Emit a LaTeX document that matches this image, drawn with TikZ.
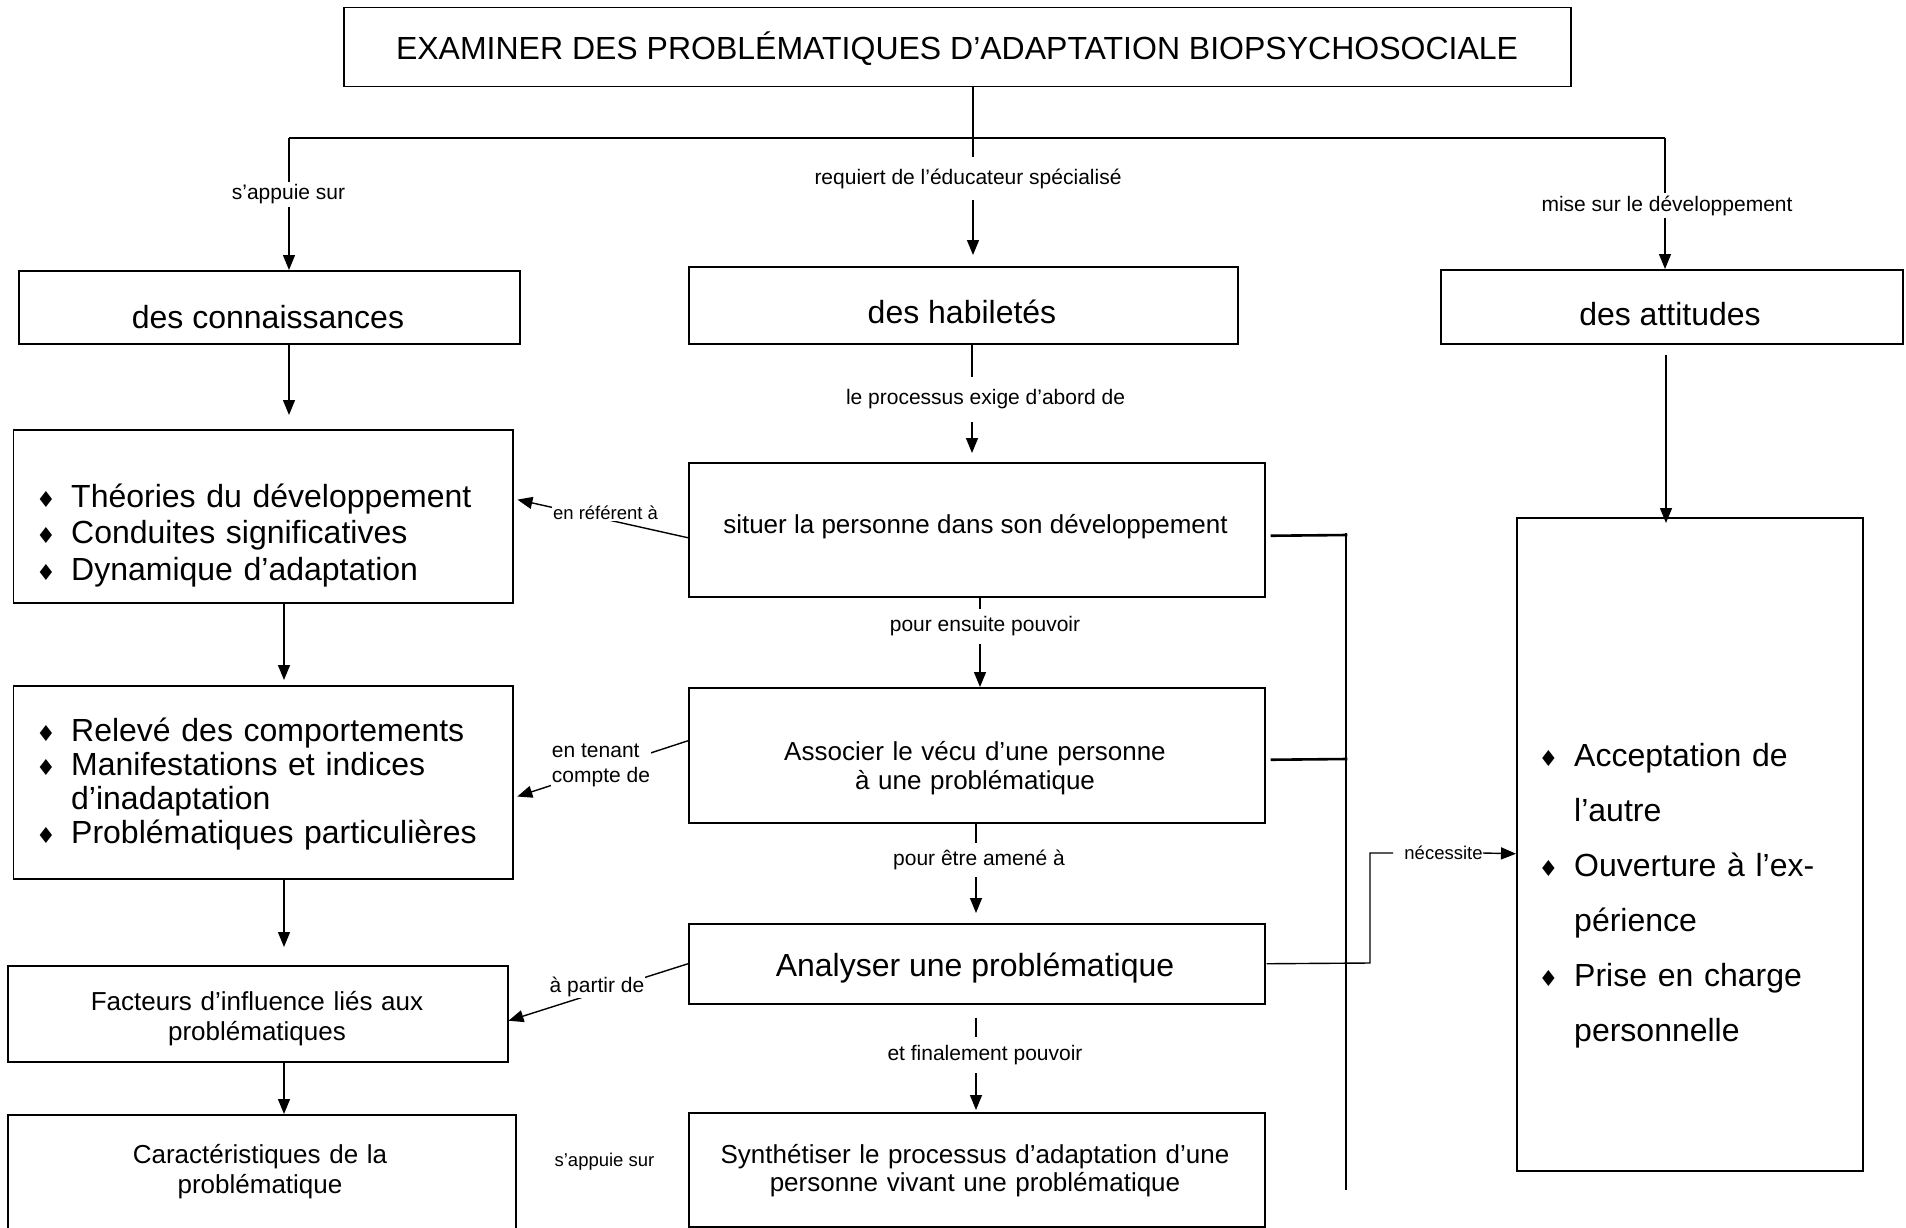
\documentclass[tikz,border=0pt]{standalone}
\usepackage{fontspec}
\setmainfont{Liberation Sans}
\newfontfamily\symfont{DejaVu Sans}
\usetikzlibrary{arrows.meta}
\newcommand{\dbul}{{\symfont\fontsize{22}{22}\selectfont ♦}}
\newcommand{\bitem}[2]{\makebox[#1][l]{\dbul}#2}
\begin{document}
\begin{tikzpicture}[x=1pt,y=1pt,
  box/.style={draw,line width=1.5pt,inner sep=0pt,anchor=north west},
  txt/.style={inner sep=0pt,anchor=base},
  ln/.style={line width=1.4pt},
  arr/.style={line width=1.4pt,-{Triangle[length=15pt,width=12pt]}},
  heavy/.style={line width=2.6pt},
  lbl/.style={fill=white,inner xsep=1pt,inner ysep=0pt,font=\fontsize{21}{25}\selectfont},
  slbl/.style={fill=white,inner xsep=1pt,inner ysep=1pt,font=\fontsize{18.5}{21}\selectfont},
  fT/.style={font=\fontsize{32}{36}\selectfont},
  fB/.style={font=\fontsize{32}{38}\selectfont},
  fM/.style={font=\fontsize{26}{30}\selectfont},
]
\useasboundingbox (0,0) rectangle (1906,-1228);
\clip (0,0) rectangle (1906,-1228);
% ---------- boxes
\node[box,minimum width=1227,minimum height=79] (title) at (343,-7) {};
\node[box,minimum width=501,minimum height=73] (conn) at (18,-270) {};
\node[box,minimum width=549,minimum height=77] (hab) at (688,-266) {};
\node[box,minimum width=462,minimum height=74] (att) at (1440,-269) {};
\node[box,minimum width=499.5,minimum height=173] (thr) at (12.5,-429) {};
\node[box,minimum width=499.5,minimum height=193] (rel) at (12.5,-685) {};
\node[box,minimum width=500,minimum height=96] (fac) at (7,-965) {};
\node[box,minimum width=508,minimum height=135] (car) at (7,-1114) {};
\node[box,minimum width=576,minimum height=134] (sit) at (688,-462) {};
\node[box,minimum width=576,minimum height=135] (aso) at (688,-687) {};
\node[box,minimum width=576,minimum height=80] (ana) at (688,-923) {};
\node[box,minimum width=576,minimum height=114] (syn) at (688,-1112) {};
\node[box,minimum width=346,minimum height=653] (atl) at (1516,-517) {};
% ---------- texts
\node[txt,fT] (titlet) at (957,-60) {EXAMINER DES PROBLÉMATIQUES D’ADAPTATION BIOPSYCHOSOCIALE};
\node[txt,fB] (connt) at (268,-328) {des connaissances};
\node[txt,fB] (habt) at (962,-323) {des habiletés};
\node[txt,fB] (attt) at (1670,-325) {des attitudes};
\node[txt,anchor=base west,text width=470,align=left,font=\fontsize{32}{36.5}\selectfont] (thrt) at (36,-507)
  {\bitem{35pt}{Théories du développement}\\\bitem{35pt}{Conduites significatives}\\\bitem{35pt}{Dynamique d’adaptation}};
\node[txt,anchor=base west,text width=470,align=left,font=\fontsize{32}{34.3}\selectfont] (relt) at (36,-741)
  {\bitem{35pt}{Relevé des comportements}\\\bitem{35pt}{Manifestations et indices}\\\hspace*{35pt}d’inadaptation\\\bitem{35pt}{Problématiques particulières}};
\node[txt,text width=490,align=center,font=\fontsize{26}{30}\selectfont] (fact) at (257,-1010) {Facteurs d’influence liés aux\\problématiques};
\node[txt,text width=490,align=center,font=\fontsize{26}{30}\selectfont] (cart) at (260,-1163) {Caractéristiques de la\\problématique};
\node[txt,fM] (sitt) at (975.5,-533) {situer la personne dans son développement};
\node[txt,text width=560,align=center,font=\fontsize{26}{29}\selectfont] (asot) at (975,-760) {Associer le vécu d’une personne\\à une problématique};
\node[txt,fB] (anat) at (975,-976) {Analyser une problématique};
\node[txt,text width=560,align=center,font=\fontsize{26}{28}\selectfont] (synt) at (975,-1163) {Synthétiser le processus d’adaptation d’une\\personne vivant une problématique};
\node[txt,anchor=base west,text width=320,align=left,font=\fontsize{32}{55}\selectfont] (atlt) at (1538.5,-766)
  {\bitem{35.5pt}{Acceptation de}\\\hspace*{35.5pt}l’autre\\\bitem{35.5pt}{Ouverture à l’ex-}\\\hspace*{35.5pt}périence\\\bitem{35.5pt}{Prise en charge}\\\hspace*{35.5pt}personnelle};
% ---------- coordinates
\coordinate (bL) at (289,-138);
\coordinate (bR) at (1665,-138);
\coordinate (bM) at (973,-138);
\coordinate (xa) at (284,0);
\coordinate (xh) at (972,0);
\coordinate (xs) at (980,0);
\coordinate (xn) at (976,0);
\coordinate (xt) at (1666,0);
\coordinate (rT) at (1346,-533);
\coordinate (rB) at (1346,-1190);
\coordinate (j1) at (1347.3,-535);
\coordinate (j2) at (1347.3,-759);
\coordinate (k1) at (1370,-963);
\coordinate (k2) at (1370,-853);
% ---------- top connectors
\draw[ln] (title.south -| bM) -- (bM);
\draw[heavy] (bL) -- (bR);
\draw[arr] (bL) -- (conn.north -| bL);
\draw[arr,shorten >=11pt] (bM) -- (hab.north -| bM);
\draw[arr] (bR) -- (att.north -| bR);
% ---------- left column
\draw[arr,shorten >=14pt] (conn.south -| bL) -- (thr.north -| bL);
\draw[arr,shorten >=5pt] (thr.south -| xa) -- (rel.north -| xa);
\draw[arr,shorten >=18pt] (rel.south -| xa) -- (fac.north -| xa);
\draw[arr] (fac.south -| xa) -- (car.north -| xa);
% ---------- middle column
\draw[arr,shorten >=9pt] (hab.south -| xh) -- (sit.north -| xh);
\draw[arr] (sit.south -| xs) -- (aso.north -| xs);
\draw[arr,shorten >=10pt] (aso.south -| xn) -- (ana.north -| xn);
\draw[arr,shorten <=13pt,shorten >=2pt] (ana.south -| xn) -- (syn.north -| xn);
% ---------- right column
\draw[arr,shorten <=10pt,shorten >=-6pt] (att.south -| xt) -- (atl.north -| xt);
% ---------- side connectors
\draw[arr,shorten >=4pt] ([yshift=-8pt]sit.west) -- ([yshift=17.5pt]thr.east);
\draw[arr,shorten >=4pt] ([yshift=14.5pt]aso.west) -- ([yshift=-15.5pt]rel.east);
\draw[arr] (ana.west) -- ([yshift=-7pt]fac.east);
\draw[heavy] (rT) -- (rB);
\draw[heavy] ([xshift=5pt,yshift=-6pt]sit.east) -- (j1);
\draw[heavy] ([xshift=5pt,yshift=-4.5pt]aso.east) -- (j2);
\node[inner sep=0pt,font=\fontsize{18.5}{21}\selectfont] (nec) at (1443.5,-853) {nécessite};
\draw[ln] ([xshift=1pt]ana.east) -- (k1) -- (k2) -- ([xshift=-11pt]nec.west);
\draw[arr] (nec.east) -- ([yshift=-9.5pt]atl.west);
% ---------- labels
\node[lbl,minimum height=25] (l1) at (288.5,-194.5) {s’appuie sur};
\node[lbl,minimum height=43] (l2) at (968,-178.5) {requiert de l’éducateur spécialisé};
\node[lbl,minimum height=25] (l3) at (1667,-205.5) {mise sur le développement};
\node[lbl,minimum height=45] (l4) at (985.5,-399.5) {le processus exige d’abord de};
\node[lbl,minimum height=35] (l5) at (985,-626.5) {pour ensuite pouvoir};
\node[lbl,minimum height=34] (l6) at (979,-860) {pour être amené à};
\node[lbl,minimum height=36] (l7) at (985,-1055) {et finalement pouvoir};
\node[slbl] (l8) at (605.5,-513) {en référent à};
\node[lbl,align=left,inner ysep=1pt] (l9) at (601,-765) {en tenant\\compte de};
\node[lbl,inner ysep=1pt] (l10) at (597,-987) {à partir de};
\node[slbl,fill=none] (l11) at (604.5,-1162) {s’appuie sur};
\end{tikzpicture}
\end{document}
